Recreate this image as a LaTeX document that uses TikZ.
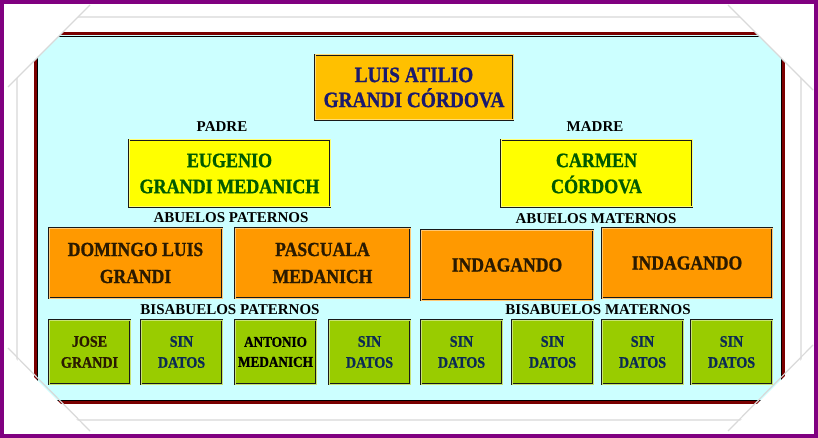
\documentclass[tikz,border=0pt]{standalone}
\usepackage{fontspec}
\setmainfont{Liberation Serif}
\newfontfamily\nombre{Liberation Serif}[FakeStretch=0.88,
    BoldFeatures={FakeStretch=0.88, FakeBold=1}]

\definecolor{marco}{HTML}{800080}
\definecolor{granate}{HTML}{7A0000}
\definecolor{fondo}{HTML}{CCFFFF}
\definecolor{oro}{HTML}{FFC000}
\definecolor{amarillo}{HTML}{FFFF00}
\definecolor{naranja}{HTML}{FF9900}
\definecolor{verde}{HTML}{99CC00}
\definecolor{azulosc}{HTML}{1A1A6E}
\definecolor{verdeosc}{HTML}{005A00}
\definecolor{marron}{HTML}{2A1A00}
\definecolor{azulsin}{HTML}{0B2A55}

\begin{document}
\begin{tikzpicture}[x=1pt, y=-1pt,
    caja/.style={draw=black!90, line width=0.8pt, double distance=1pt,
        double=#1!55!white, fill=#1, align=center, inner sep=0pt},
    etiqueta/.style={font=\bfseries\fontsize{15}{15}\selectfont, text=black}]

    % 1. Papel, marco y fondo celeste
    \useasboundingbox (0,0) rectangle (818,438);
    \fill[white] (0,0) rectangle (818,438);
    \draw[gray!20, line width=1.5pt] (17,17) rectangle (801,420);
    \fill[fondo] (36,35) rectangle (782,401);
    \draw[granate, line width=3pt] (35,34) rectangle (783,402);
    \draw[black, line width=0.6pt] (37.2,36.2) rectangle (780.8,399.8);

    % Esquinas dobladas del papel
    \fill[white] (0,0) -- (95,0) -- (0,95) -- cycle;
    \fill[white] (723,0) -- (818,0) -- (818,95) -- cycle;
    \fill[white] (0,343) -- (0,438) -- (95,438) -- cycle;
    \fill[white] (818,343) -- (818,438) -- (723,438) -- cycle;
    \draw[gray!30, line width=1.2pt] (90,5) -- (8,87);
    \draw[gray!30, line width=1.2pt] (728,5) -- (813,90);
    \draw[gray!30, line width=1.2pt] (8,348) -- (90,431);
    \draw[gray!30, line width=1.2pt] (813,345) -- (728,431);

    % 2. Nieto y padres
    \node[caja=oro, minimum width=198, minimum height=65, text=azulosc,
        font=\nombre\bfseries\fontsize{22}{25}\selectfont] (luis) at (414,87.5)
        {LUIS ATILIO\\GRANDI CÓRDOVA};

    \node[etiqueta] (padre) at (222,127) {PADRE};
    \node[etiqueta] (madre) at (595,127) {MADRE};

    \node[caja=amarillo, minimum width=201, minimum height=67, text=verdeosc,
        font=\nombre\bfseries\fontsize{20.5}{26}\selectfont] (eugenio) at (229.5,173.5)
        {EUGENIO\\GRANDI MEDANICH};
    \node[caja=amarillo, minimum width=191, minimum height=67, text=verdeosc,
        font=\nombre\bfseries\fontsize{20.5}{26}\selectfont] (carmen) at (596.5,173.5)
        {CARMEN\\CÓRDOVA};

    % 3. Abuelos
    \node[etiqueta] (abpat) at (231,218) {ABUELOS PATERNOS};
    \node[etiqueta] (abmat) at (596,219) {ABUELOS MATERNOS};

    \node[caja=naranja, minimum width=173, minimum height=70, text=marron,
        font=\nombre\bfseries\fontsize{20}{27}\selectfont] (domingo) at (135.5,263)
        {DOMINGO LUIS\\GRANDI};
    \node[caja=naranja, minimum width=175, minimum height=70, text=marron,
        font=\nombre\bfseries\fontsize{20}{27}\selectfont] (pascuala) at (322.5,263)
        {PASCUALA\\MEDANICH};
    \node[caja=naranja, minimum width=172, minimum height=70, text=marron,
        font=\nombre\bfseries\fontsize{20}{27}\selectfont] (indag1) at (507,265)
        {INDAGANDO};
    \node[caja=naranja, minimum width=170, minimum height=70, text=marron,
        font=\nombre\bfseries\fontsize{20}{27}\selectfont] (indag2) at (687,263)
        {INDAGANDO};

    % 4. Bisabuelos
    \node[etiqueta] (bispat) at (230,310) {BISABUELOS PATERNOS};
    \node[etiqueta] (bismat) at (598,310) {BISABUELOS MATERNOS};

    \node[caja=verde, minimum width=81, minimum height=64, text=marron,
        font=\nombre\bfseries\fontsize{16}{21}\selectfont] (jose) at (89.5,352)
        {JOSE\\GRANDI};
    \node[caja=verde, minimum width=81, minimum height=64, text=black,
        font=\nombre\bfseries\fontsize{15}{20}\selectfont] (antonio) at (275.5,352)
        {ANTONIO\\MEDANICH};
    \foreach \x/\nom in {181.5/sd1, 369.5/sd2, 461.5/sd3, 552.5/sd4,
                         642.5/sd5, 731.5/sd6}
        \node[caja=verde, minimum width=81, minimum height=64, text=azulsin,
            font=\nombre\bfseries\fontsize{16}{21}\selectfont] (\nom) at (\x,352)
            {SIN\\DATOS};

    % 5. Borde morado exterior
    \draw[marco, line width=4pt] (2,2) rectangle (816,436);

\end{tikzpicture}
\end{document}
